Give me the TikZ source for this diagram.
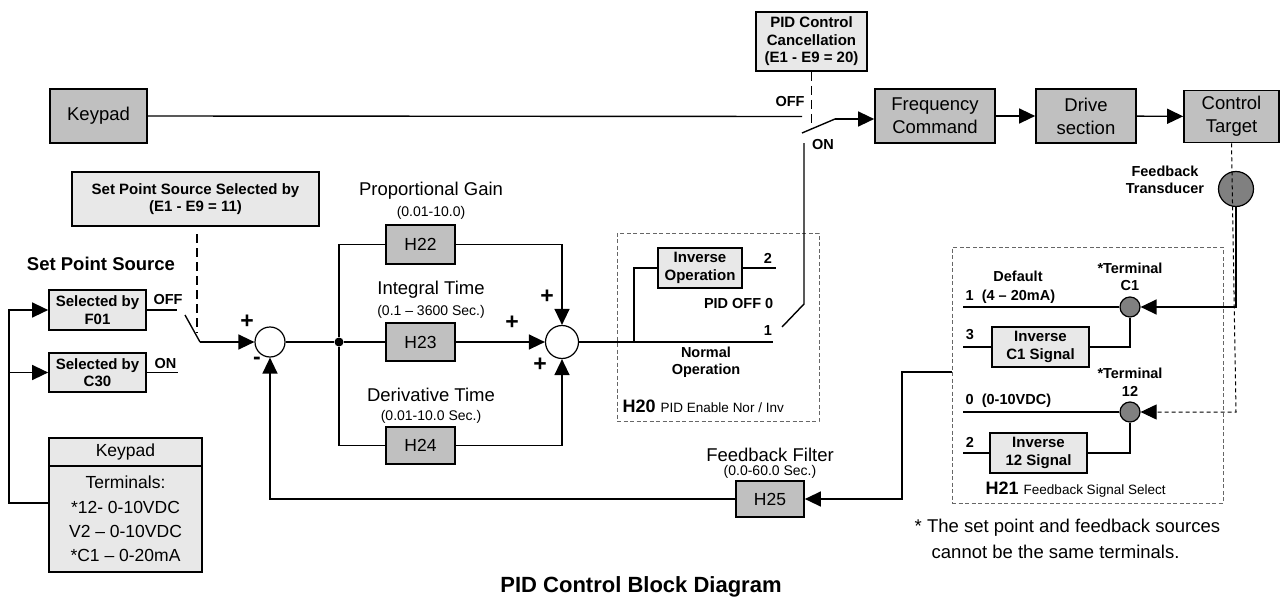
\documentclass[tikz,border=0pt]{standalone}
\usepackage{fontspec}
\setmainfont{Liberation Sans}
\usetikzlibrary{arrows.meta}
\definecolor{boxgray}{HTML}{C0C0C0}
\definecolor{boxlight}{HTML}{E8E8E8}
\definecolor{termgray}{HTML}{808080}
\begin{document}
\begin{tikzpicture}[x=1pt, y=-1pt, line width=1.4pt,
    blk/.style={draw, line width=1.7pt, fill=boxgray, inner sep=0pt, align=center,
      font=\fontsize{18.5}{23}\selectfont},
    hblk/.style={blk, font=\fontsize{17.5}{20}\selectfont},
    lblk/.style={draw, line width=1.7pt, fill=boxlight, inner sep=0pt, align=center,
      font=\bfseries\fontsize{15}{17.5}\selectfont},
    sumc/.style={circle, draw, line width=1.2pt, fill=white, inner sep=0pt},
    termc/.style={circle, draw, line width=1.2pt, fill=termgray, inner sep=0pt},
    grpbox/.style={draw=black!60, line width=1pt, dash pattern=on 4pt off 2.5pt},
    bigdash/.style={dash pattern=on 9pt off 5pt},
    finedash/.style={line width=1pt, dash pattern=on 4pt off 3pt},
    arr/.style={-{Triangle[length=16pt, width=15pt]}},
    txt/.style={inner sep=0pt, font=\fontsize{18.5}{22}\selectfont, align=center},
    sub/.style={inner sep=0pt, font=\fontsize{14}{16}\selectfont},
    lbl/.style={inner sep=0pt, font=\bfseries\fontsize{14.5}{17.5}\selectfont, align=center},
    sgn/.style={inner sep=0pt, font=\bfseries\fontsize{23}{25}\selectfont}]
\useasboundingbox (0,0) rectangle (1283,602);

% forward path along the top
\node (keypad) [blk, minimum width=97pt, minimum height=54pt] at (98.5,116) {Keypad};
\node (freq) [blk, minimum width=120pt, minimum height=54pt] at (935,116) {Frequency\\Command};
\node (drive) [blk, minimum width=100pt, minimum height=54pt] at (1086,116) {Drive\\section};
\node (target) [blk, minimum width=95pt, minimum height=52pt] at (1231.5,116.5) {Control\\Target};
\node (cancel) [lblk, minimum width=111pt, minimum height=59pt] at (811.5,41.5) {PID Control\\Cancellation\\(E1 - E9 = 20)};

\coordinate (offend) at (802,116.5);
\coordinate (pivot) at (802,133);
\coordinate (blade) at (835,119);
\coordinate (cancelend) at (811.5,128);
\draw (keypad.east) -- (offend);
\draw (pivot) -- (blade);
\draw[arr] (blade) -- (blade -| freq.west);
\draw[arr] (freq) -- (drive);
\draw[arr] (drive) -- (target);
\draw[bigdash] (cancel.south) -- (cancelend);
\node [lbl] at (790,102) {OFF};
\node [lbl] at (823,145) {ON};

% H20 selection
\node (h20box) [grpbox, minimum width=202pt, minimum height=188pt] at (718,327) {};
\node (invop) [lblk, minimum width=84pt, minimum height=40pt] at (700,268) {Inverse\\Operation};
\coordinate (out2) at (776,268);
\coordinate (out1) at (773,342);
\draw (invop.east) -- (out2);
\draw (804,143) -- (804,304) -- (782,327);
\node [lbl] at (768,258) {2};
\node [lbl, anchor=east] at (774,304) {PID OFF 0};
\node [lbl] at (768,331) {1};
\node [lbl] at (706,362) {Normal\\Operation};
\node [inner sep=0pt, anchor=west] at (622,406) {\bfseries\fontsize{18}{20}\selectfont H20 \mdseries\fontsize{13.5}{16}\selectfont PID Enable Nor / Inv};

% set point source
\node (spsel) [lblk, minimum width=247pt, minimum height=54pt] at (195.5,199) {Set Point Source Selected by\\(E1 - E9 = 11)};
\coordinate (spdash1) at (197,234);
\coordinate (spdash2) at (197,333);
\draw[bigdash] (spdash1) -- (spdash2);
\node [lbl, font=\bfseries\fontsize{18.5}{21}\selectfont] at (101,264) {Set Point Source};
\node (f01) [lblk, minimum width=97pt, minimum height=40pt] at (97.5,310) {Selected by\\F01};
\node (c30) [lblk, minimum width=97pt, minimum height=39pt] at (97.5,372.5) {Selected by\\C30};
\node (kphead) [draw, line width=1.7pt, fill=boxlight, minimum width=153pt, minimum height=28pt, inner sep=0pt,
  font=\fontsize{17.5}{20}\selectfont] at (125.5,452) {Keypad};
\node (kpbody) [draw, line width=1.7pt, fill=boxlight, minimum width=153pt, minimum height=106pt, inner sep=0pt,
  align=center, font=\fontsize{17.5}{24.2}\selectfont] at (125.5,519) {Terminals:\\*12- 0-10VDC\\ V2 -- 0-10VDC\\*C1 -- 0-20mA};
\coordinate (offtip) at (177,310);
\coordinate (ontip) at (178,372.5);
\coordinate (swstart) at (185,315);
\coordinate (swend) at (200,342);
\coordinate (bus) at (9,503);
\draw (f01.east) -- (offtip);
\draw (c30.east) -- (ontip);
\node [lbl] at (168,300) {OFF};
\node [lbl] at (165.5,364) {ON};
\draw[arr] (kpbody.west |- bus) -- (bus) |- (f01.west);
\draw[arr] (bus |- c30.west) -- (c30.west);

% PID terms
\node (sum1) [sumc, minimum size=30pt] at (270,342) {};
\node (jdot) [circle, fill, inner sep=0pt, minimum size=9pt] at (339,342) {};
\node (h22) [hblk, minimum width=69pt, minimum height=39pt] at (420.5,244.5) {H22};
\node (h23) [hblk, minimum width=69pt, minimum height=38pt] at (420.5,342) {H23};
\node (h24) [hblk, minimum width=69pt, minimum height=37pt] at (420.5,445.5) {H24};
\node (sum2) [sumc, minimum size=33pt] at (562,342) {};
\draw (swstart) -- (swend);
\draw[arr] (swend) -- (sum1.west);
\draw (sum1.east) -- (jdot) -- (h23.west);
\draw (jdot) |- (h22.west);
\draw (jdot) |- (h24.west);
\draw[arr] (h22.east) -| (sum2.north);
\draw[arr] (h23.east) -- (sum2.west);
\draw[arr] (h24.east) -| (sum2.south);
\draw (sum2.east) -- (out1);
\draw (634,342) |- (invop.west);
\node [sgn] at (247,322) {+};
\node [sgn] at (257,361) {-};
\node [sgn] at (547,297) {+};
\node [sgn] at (512,323) {+};
\node [sgn] at (540,365) {+};
\node [txt] at (431,191) {Proportional Gain};
\node [sub] at (431,213) {(0.01-10.0)};
\node [txt] at (431,290) {Integral Time};
\node [sub] at (431,312) {(0.1 -- 3600 Sec.)};
\node [txt] at (431,395) {Derivative Time};
\node [sub] at (431,417) {(0.01-10.0 Sec.)};

% feedback path
\node (trans) [termc, minimum size=35pt] at (1236,189) {};
\node (tc1) [termc, minimum size=20pt] at (1130,307) {};
\node (t12) [termc, minimum size=20pt] at (1130,412) {};
\node (h21box) [grpbox, minimum width=271pt, minimum height=256pt] at (1087.5,375) {};
\node (invc1) [lblk, minimum width=97pt, minimum height=40pt] at (1040.5,347) {Inverse\\C1 Signal};
\node (inv12) [lblk, minimum width=97pt, minimum height=40pt] at (1038.5,453) {Inverse\\12 Signal};
\node (h25) [hblk, minimum width=68pt, minimum height=36pt] at (770,499) {H25};
\coordinate (in1) at (963,307);
\coordinate (in3) at (963,347);
\coordinate (in0) at (963,412);
\coordinate (in2) at (963,453);
\coordinate (fbout) at (952,372);
\coordinate (fbturn) at (902,372);
\draw[finedash, arr] (target.south) -- (1236,412) -- (t12.east);
\draw[arr] (trans.south) |- (tc1.east);
\draw (in1) -- (tc1.west);
\draw (in3) -- (invc1.west);
\draw (invc1.east) -| (tc1.south);
\draw (in0) -- (t12.west);
\draw (in2) -- (inv12.west);
\draw (inv12.east) -| (t12.south);
\draw[arr] (fbout) -- (fbturn) |- (h25.east);
\draw[arr] (h25.west) -| (sum1.south);
\node [lbl] at (1165,180) {Feedback\\[-1pt]Transducer};
\node [lbl] at (1018,276) {Default};
\node [lbl, anchor=west] at (965,297) {1\ \ (4 -- 20mA)};
\node [lbl] at (1130,277) {*Terminal\\C1};
\node [lbl] at (970,335) {3};
\node [lbl, anchor=west] at (965,401) {0\ \ (0-10VDC)};
\node [lbl] at (1130,382) {*Terminal\\12};
\node [lbl] at (970,442) {2};
\node [inner sep=0pt, anchor=west] at (985,490) {\bfseries\fontsize{18}{20}\selectfont H21 \mdseries\fontsize{13.5}{16}\selectfont Feedback Signal Select};
\node [txt] at (770,455) {Feedback Filter};
\node [sub] at (770,472) {(0.0-60.0 Sec.)};

% notes
\node [txt, anchor=west] at (914,528) {* The set point and feedback sources};
\node [txt, anchor=west] at (931,552) {cannot be the same terminals.};
\node [inner sep=0pt, font=\bfseries\fontsize{22}{24}\selectfont] at (641,587) {PID Control Block Diagram};
\end{tikzpicture}
\end{document}
